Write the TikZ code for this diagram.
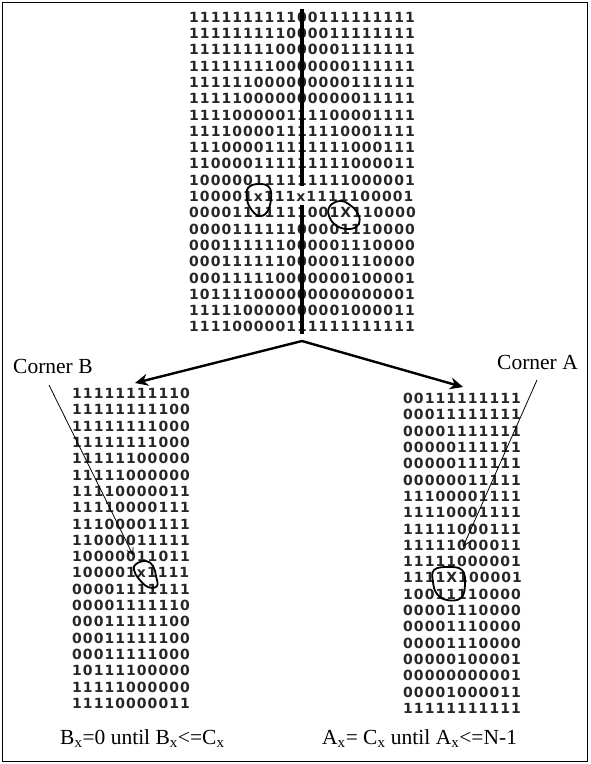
\documentclass[tikz,border=0pt]{standalone}
\usepackage{xcolor}
\usepackage{tikz}
\usepackage{fontspec}
\usetikzlibrary{arrows.meta}

\setmainfont{Liberation Serif}
\newfontfamily\bitfont{DejaVu Sans}[LetterSpace=7.5]

\tikzset{
    bits/.style={font=\bitfont\bfseries\fontsize{14}{16.3}\selectfont, text=black!85, align=left, inner sep=0pt, anchor=north west},
    words/.style={font=\fontsize{21.5}{26}\selectfont, inner sep=0pt, anchor=base west},
    divider/.style={line width=4pt},
    branch/.style={line width=2.4pt, -{Stealth[length=13pt,width=12pt]}},
    pointer/.style={line width=0.8pt, -{Straight Barb[length=6pt,width=7pt]}},
    blob/.style={line width=1.8pt}
}

\begin{document}
\begin{tikzpicture}[x=1pt, y=-1pt]
    \useasboundingbox (0,0) rectangle (590,764);
    \draw[line width=1.6pt] (2.5,2.5) rectangle (587.5,761.5);

    \node[bits] (whole) at (189,11.7) {111111111100111111111\\
        111111111000011111111\\
        111111110000001111111\\
        111111110000000111111\\
        111111000000000111111\\
        111110000000000011111\\
        111100000111100001111\\
        111100001111110001111\\
        111000011111111000111\\
        110000111111111000011\\
        100000111111111000001\\
        100001x111x1111100001\\
        00001111111001X110000\\
        000011111100001110000\\
        000111111000001110000\\
        000111111000001110000\\
        000111110000000100001\\
        101111000000000000001\\
        111110000000001000011\\
        111100000111111111111};

    \draw[divider] (302,9) -- (302,186);
    \draw[divider] (302,205) -- (302,334);

    \draw[blob] plot[smooth cycle, tension=0.7] coordinates {(248,188) (258,184) (269,187) (271,199) (267,212) (259,216) (251,209) (247,199)};
    \draw[blob] plot[smooth cycle, tension=0.7] coordinates {(330,206) (340,201) (350,205) (358,214) (359,224) (350,229) (337,226) (329,216)};

    \coordinate (split) at (302,341);
    \coordinate (tipB) at (135,383);
    \coordinate (tipA) at (463,387);
    \draw[branch] (split) -- (tipB);
    \draw[branch] (split) -- (tipA);

    \node[bits] (partB) at (72,388) {11111111110\\
        11111111100\\
        11111111000\\
        11111111000\\
        11111100000\\
        11111000000\\
        11110000011\\
        11110000111\\
        11100001111\\
        11000011111\\
        10000011011\\
        100001x1111\\
        00001111111\\
        00001111110\\
        00011111100\\
        00011111100\\
        00011111000\\
        10111100000\\
        11111000000\\
        11110000011};

    \node[bits] (partA) at (403,393) {00111111111\\
        00011111111\\
        00001111111\\
        00000111111\\
        00000111111\\
        00000011111\\
        11100001111\\
        11110001111\\
        11111000111\\
        11111000011\\
        11111000001\\
        1111X100001\\
        10011110000\\
        00001110000\\
        00001110000\\
        00001110000\\
        00000100001\\
        00000000001\\
        00001000011\\
        11111111111};

    \draw[blob] plot[smooth cycle, tension=0.7] coordinates {(136,564) (146,561) (153,566) (156,576) (157,586) (148,587) (139,579) (134,570)};
    \draw[blob] plot[smooth cycle, tension=0.7] coordinates {(434,570) (448,567) (462,570) (465,584) (461,598) (447,600) (437,594) (433,582)};

    \node[words] (cornerB) at (13,373) {Corner B};
    \node[words] (cornerA) at (497,369) {Corner A};
    \coordinate (fromB) at (49,385);
    \coordinate (toB) at (133,555);
    \coordinate (fromA) at (537,380);
    \coordinate (toA) at (463,547);
    \draw[pointer] (fromB) -- (toB);
    \draw[pointer] (fromA) -- (toA);

    \node[words] (ruleB) at (60,744) {B\textsubscript{x}=0 until B\textsubscript{x}<=C\textsubscript{x}};
    \node[words] (ruleA) at (322,744) {A\textsubscript{x}= C\textsubscript{x} until A\textsubscript{x}<=N-1};
\end{tikzpicture}
\end{document}
